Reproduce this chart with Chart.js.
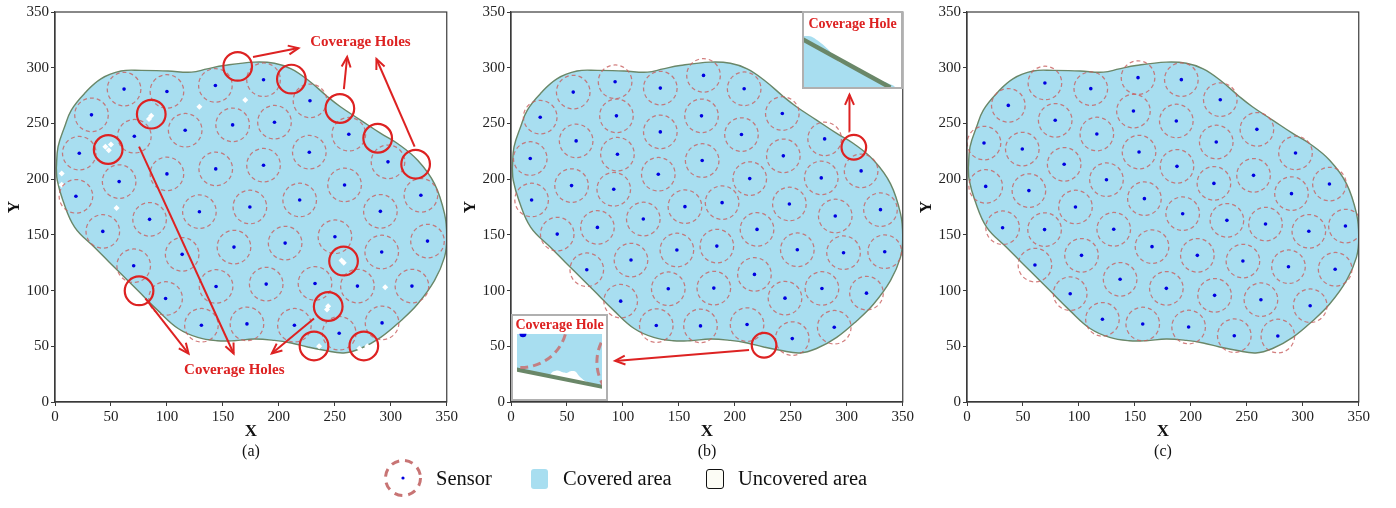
<!DOCTYPE html>
<html><head><meta charset="utf-8">
<script src="https://cdn.jsdelivr.net/npm/chart.js@4.4.1/dist/chart.umd.min.js"></script>
<style>
html,body{margin:0;padding:0;background:#fff;}
#wrap{position:relative;width:1396px;height:508px;overflow:hidden;font-family:'Liberation Serif','Times New Roman',serif;color:#111;}
.panel{position:absolute;top:0;}
.cap{position:absolute;top:442px;width:100px;text-align:center;font-size:16px;line-height:18px;}
.inset{position:absolute;border:2px solid #b0b0b0;background:#fff;line-height:0;}
.leg{position:absolute;font-size:20.5px;line-height:24px;top:466px;white-space:nowrap;}
.box{position:absolute;border-radius:3px;}
</style>
</head><body>
<div id="wrap">
  <canvas id="pa" class="panel" width="460" height="460" style="left:0px"></canvas>
  <canvas id="pb" class="panel" width="460" height="460" style="left:456px"></canvas>
  <canvas id="pc" class="panel" width="460" height="460" style="left:912px"></canvas>
  <div class="inset" style="left:802px;top:11px;"><canvas id="insTR" width="97" height="74"></canvas></div>
  <div class="inset" style="left:511px;top:314px;"><canvas id="insBL" width="93" height="83"></canvas></div>
  <div class="cap" style="left:201px">(a)</div>
  <div class="cap" style="left:657px">(b)</div>
  <div class="cap" style="left:1113px">(c)</div>
  <svg style="position:absolute;left:383px;top:458px" width="40" height="40">
    <circle cx="20" cy="20" r="17.5" fill="none" stroke="#c87474" stroke-width="3" stroke-dasharray="8 6"></circle>
    <circle cx="20" cy="20" r="1.6" fill="#0000e0"></circle>
  </svg>
  <div class="leg" style="left:436px">Sensor</div>
  <div class="box" style="left:531px;top:469px;width:17px;height:20px;background:#a8def0"></div>
  <div class="leg" style="left:563px">Covered area</div>
  <div class="box" style="left:706px;top:469px;width:16px;height:18px;border:1.5px solid #111;background:#fcfcf5"></div>
  <div class="leg" style="left:738px">Uncovered area</div>
</div>
<script>
// ---------------- data ----------------
const TICKS = [0, 50, 100, 150, 200, 250, 300, 350];
const SENSOR_RANGE = 15;

const boundary = [
  [1.2,210],[2.7,229],[8.6,247],[14.6,262],[26.5,277],[41,290],[59,297],[77,297.6],[101,297],[122,296],
  [136,299],[151,302],[178,305],[196,304],[211,299],[226,289],[243.5,274],[255,265],[273,253],[291,241],
  [306,232],[324,217],[339,196],[348,169],[350,148],[348,130],[339,109],[324,88],[309,73],[291,58],
  [273,48],[258,44],[240.5,46.4],[225.7,49.4],[211,53],[196,55.3],[178,56.5],[160,55],[145,55],[127.5,58],
  [110,66],[92,82],[74,100],[56,118],[35,139],[17.5,157],[7,181],[2,199],[1.2,210]
];

const sensorsA = [
  [61.7,280.8],[100,278.7],[143.3,284.1],[186.3,289.2],[32.6,257.7],[227.8,270.3],[70.9,238.5],[116.3,243.9],
  [158.7,248.7],[196.1,251.1],[262.5,240.3],[21.7,223.3],[227.2,224.2],[297.5,215.5],[57.3,197.8],[100,204.7],
  [143.6,209.2],[186.3,212.5],[258.7,194.8],[18.7,184.6],[326.9,185.5],[129,170.8],[174.1,175],[218.6,181.3],
  [290.7,171.1],[84.5,163.9],[42.7,153.1],[250.1,148.3],[332.8,144.4],[113.6,132.5],[159.9,139],[205.6,142.6],
  [291.9,134.6],[70.3,122.3],[143.9,103.7],[188.7,105.8],[232.3,106.4],[270.2,104],[318.9,104],[98.8,92.9],
  [130.8,68.9],[171.5,70.1],[213.9,68.9],[292.2,71],[253.9,61.7]
];
const sensorsB = [
  [93,287.4],[55.6,278.1],[133.4,281.7],[172,293.1],[208.3,281.1],[26.1,255.6],[94.2,256.8],[170.2,256.8],
  [242.4,258.9],[58.2,234.3],[133.4,242.4],[205.9,240],[280.2,236.1],[17.2,218.5],[95.1,222.4],[170.8,216.7],
  [243.3,220.9],[131.6,204.4],[213.3,200.5],[277.2,201.1],[312.8,207.4],[54.1,194.2],[91.8,190.9],[18.4,181.3],
  [155.4,175.3],[188.6,178.9],[248.7,177.7],[289.7,166.9],[330.1,172.6],[118.2,164.2],[77.2,156.7],[41.3,150.7],
  [219.8,154.9],[148.2,136.4],[183.9,139.9],[255.8,136.6],[297.1,134],[333.9,134.9],[107.2,127.4],[67.7,118.7],
  [217.5,114.5],[140.5,101.6],[181.2,102.2],[277.8,101.9],[317.6,97.7],[244.8,93.2],[98,90.5],[129.8,68.6],
  [169.3,68.3],[210.9,69.5],[288.8,67.1],[251.3,56.9]
];
const sensorsC = [
  [69.6,286.3],[110.6,281.2],[152.8,291.1],[191.5,289.3],[36.9,266.2],[78.8,252.8],[148.7,261.1],[187,252.2],
  [226.3,271.3],[15.2,232.4],[49.4,227],[116,240.5],[153.7,224.3],[222.7,233.3],[259,244.7],[86.8,213.3],
  [187.6,211.5],[293.5,223.5],[16.7,193.5],[55.3,189.7],[124.6,199.5],[220.6,196.2],[256,203.4],[323.8,195.6],
  [289.9,187],[96.9,175],[158.5,182.5],[192.7,169],[31.8,156.4],[69.3,154.7],[131.1,155],[232.2,163],
  [266.7,159.7],[305.4,153.2],[338.1,157.9],[102.3,131.6],[165.3,139.4],[205.8,131.6],[60.7,122.9],[246.5,126.5],
  [287.2,121.4],[328.9,119.1],[136.8,110.1],[178.1,102],[92.2,97.2],[221.2,95.7],[262.6,91.8],[306.6,86.4],
  [121,74.2],[157,70],[198,67.3],[238.8,59.5],[277.7,59.2]
];

// uncovered spots (panel a)
const holesA = [
  [45,229],[48,226],[50,231],[86,257],[84,254],[129,265],[170,271],[258,125],[256,127],
  [244,86],[243,83],[295,103],[55,174],[236,50],[279,50],[272,48],[6,205],[6,195]
];

// highlighted holes (red rings) and arrows [x1,y1,x2,y2]
const ringsA = [
  [163.2,301.2],[211.2,289.8],[254.5,263.4],[288.3,236.7],[322.2,213.4],[86,258.3],
  [47.5,226.6],[257.8,126.5],[75.1,99.8],[244.1,85.7],[231.4,50.3],[275.9,50.3]
];
const arrowsA = [
  [176.9,309.6,217.5,317.6],[258.1,280.8,261,309.6],[321.3,229.2,287.2,307.8],
  [75.1,229.2,159.6,43.5],[80.7,92.9,119.3,43.5],[231.4,74.9,193.7,43.5]
];
const notesA = [
  {text:'Coverage Holes', x:272.9, y:323},
  {text:'Coverage Holes', x:160.2, y:28.2}
];
const ringsB = [[306.3,228.6],[226.1,50.9]];
const arrowsB = [[302.5,242.7,302.4,275.7],[212.7,46.7,93,36.9]];

// inset contents (inset-local units, 0..100)
const insetTRcover = [[0,100],[8,98],[20,82],[27,69],[31,57],[37,48],[48,40],[61,31],[66,24],[77,14],[87,7],[92,3],[94,0]];
const insetTRedge = [[-3,95],[89,-1]];
const insetBLcover = [[0,43],[20,37],[38,33],[42,38],[48,40],[54,37],[58,36],[63,39],[69,38],[73,31],[80,23],[90,18],[100,15]];
const insetBLedge = [[-2,42],[102,13]];
const insetBLrings = [[5,120],[148,54]];
const insetBLdot = [[7,100]];

// ---------------- style ----------------
const FONT = "'Liberation Serif','Times New Roman',serif";
const BLUE = '#a8def0', EDGE = '#6a8768', RING = 'rgba(200,95,95,0.8)', DOT = '#0000e0', RED = '#dd2222';
const pts = a => a.map(([x, y]) => ({x, y}));
const unitPx = (chart, u) => { const s = chart.scales.x; return Math.abs(s.getPixelForValue(u) - s.getPixelForValue(0)); };

const dashPlugin = {
  id: 'dashes',
  beforeDatasetDraw(chart, args) { const d = chart.data.datasets[args.index]; if (d.dash) chart.ctx.setLineDash(d.dash); },
  afterDatasetDraw(chart) { chart.ctx.setLineDash([]); }
};
const framePlugin = {
  id: 'frame',
  afterDatasetsDraw(chart) {
    const {ctx, chartArea: a} = chart;
    ctx.save(); ctx.strokeStyle = '#3a3a3a'; ctx.lineWidth = 1.2;
    ctx.strokeRect(a.left, a.top, a.right - a.left, a.bottom - a.top); ctx.restore();
  }
};
const arrowPlugin = {
  id: 'arrowheads',
  afterDatasetsDraw(chart) {
    const ctx = chart.ctx;
    chart.data.datasets.forEach((d, i) => {
      if (!d.arrow) return;
      const p = chart.getDatasetMeta(i).data; const a = p[0], b = p[p.length - 1];
      const ang = Math.atan2(b.y - a.y, b.x - a.x), L = 11, w = 0.42;
      ctx.save(); ctx.strokeStyle = d.borderColor; ctx.lineWidth = 2; ctx.lineJoin = 'miter';
      ctx.beginPath();
      ctx.moveTo(b.x - L * Math.cos(ang - w), b.y - L * Math.sin(ang - w));
      ctx.lineTo(b.x, b.y);
      ctx.lineTo(b.x - L * Math.cos(ang + w), b.y - L * Math.sin(ang + w));
      ctx.stroke(); ctx.restore();
    });
  }
};
const notePlugin = {
  id: 'notes',
  afterDatasetsDraw(chart, args, opts) {
    const ctx = chart.ctx;
    (opts.items || []).forEach(it => {
      ctx.save(); ctx.font = 'bold 15px ' + FONT; ctx.fillStyle = RED;
      ctx.textAlign = 'center'; ctx.textBaseline = 'middle';
      ctx.fillText(it.text, chart.scales.x.getPixelForValue(it.x), chart.scales.y.getPixelForValue(it.y));
      ctx.restore();
    });
  }
};

function axis(title, isX) {
  const o = {
    type: 'linear', min: 0, max: 350,
    afterBuildTicks: s => { s.ticks = TICKS.map(v => ({value: v})); },
    grid: {display: true, drawOnChartArea: false, drawTicks: true, tickLength: 4, color: '#3a3a3a', lineWidth: 1},
    border: {display: true, color: '#3a3a3a', width: 1.2},
    ticks: {font: {family: FONT, size: 15}, color: '#222', padding: 2, maxRotation: 0, autoSkip: false},
    title: {display: true, text: title, color: '#111', font: {family: FONT, size: 17, weight: 'bold'}}
  };
  if (isX) { o.afterFit = s => { s.height = 58; }; o.title.padding = {top: 0, bottom: 18}; }
  else { o.afterFit = s => { s.width = 55; }; o.title.padding = {top: 4, bottom: 0}; }
  return o;
}

function panel(id, sensors, extra) {
  const ds = [
    {data: pts(boundary), showLine: true, fill: 'shape', backgroundColor: BLUE, borderColor: EDGE, borderWidth: 1.4, pointRadius: 0, tension: 0.4, order: 6},
    {data: pts(extra.holes || []), pointStyle: 'rectRot', pointRadius: 3, backgroundColor: '#ffffff', borderWidth: 0, order: 5},
    {data: pts(sensors), dash: [4, 3], pointRadius: c => unitPx(c.chart, SENSOR_RANGE), backgroundColor: 'rgba(0,0,0,0)', borderColor: RING, borderWidth: 1.25, order: 4},
    {data: pts(sensors), pointRadius: 1.8, backgroundColor: DOT, borderWidth: 0, order: 3},
    {data: pts(extra.rings || []), pointRadius: c => unitPx(c.chart, extra.ringR || 12), backgroundColor: 'rgba(0,0,0,0)', borderColor: RED, borderWidth: 2.2, order: 2}
  ];
  (extra.arrows || []).forEach(a => ds.push({
    data: [{x: a[0], y: a[1]}, {x: a[2], y: a[3]}], showLine: true, arrow: true,
    borderColor: RED, borderWidth: 2, pointRadius: 0, order: 1
  }));
  return new Chart(document.getElementById(id), {
    type: 'scatter',
    data: {datasets: ds},
    options: {
      responsive: false, animation: false, events: [], devicePixelRatio: 1,
      layout: {padding: {left: 0, right: 12, top: 12, bottom: 0}},
      scales: {x: axis('X', true), y: axis('Y', false)},
      plugins: {legend: {display: false}, tooltip: {enabled: false}, notes: {items: extra.notes || []}}
    },
    plugins: [dashPlugin, framePlugin, arrowPlugin, notePlugin]
  });
}

panel('pa', sensorsA, {holes: holesA, rings: ringsA, ringR: 12.8, arrows: arrowsA, notes: notesA});
panel('pb', sensorsB, {rings: ringsB, ringR: 11, arrows: arrowsB});
panel('pc', sensorsC, {});

function inset(id, datasets, titlePad) {
  return new Chart(document.getElementById(id), {
    type: 'scatter',
    data: {datasets},
    options: {
      responsive: false, animation: false, events: [], devicePixelRatio: 1,
      layout: {padding: 0},
      scales: {x: {display: false, min: 0, max: 100}, y: {display: false, min: 0, max: 100}},
      plugins: {legend: {display: false}, tooltip: {enabled: false},
        title: {display: true, text: 'Coverage Hole', color: RED, font: {family: FONT, size: 14, weight: 'bold'}, padding: titlePad}}
    },
    plugins: [dashPlugin]
  });
}
inset('insTR', [
  {data: pts(insetTRcover), showLine: true, fill: 'start', backgroundColor: BLUE, borderWidth: 0, pointRadius: 0, tension: 0.25, order: 2},
  {data: pts(insetTRedge), showLine: true, borderColor: EDGE, borderWidth: 4.5, pointRadius: 0, order: 1}
], {top: 3, bottom: 3});
inset('insBL', [
  {data: pts(insetBLcover), showLine: true, fill: 'end', backgroundColor: BLUE, borderWidth: 0, pointRadius: 0, tension: 0.25, order: 4},
  {data: pts(insetBLedge), showLine: true, borderColor: EDGE, borderWidth: 4, pointRadius: 0, order: 3},
  {data: pts(insetBLrings), dash: [8, 5], clip: 0, pointRadius: c => unitPx(c.chart, 54), backgroundColor: 'rgba(0,0,0,0)', borderColor: 'rgba(200,110,110,0.85)', borderWidth: 3, order: 2},
  {data: pts(insetBLdot), clip: 0, pointRadius: 3.5, backgroundColor: DOT, borderWidth: 0, order: 1}
], {top: 1, bottom: 0});
</script>
</body></html>
